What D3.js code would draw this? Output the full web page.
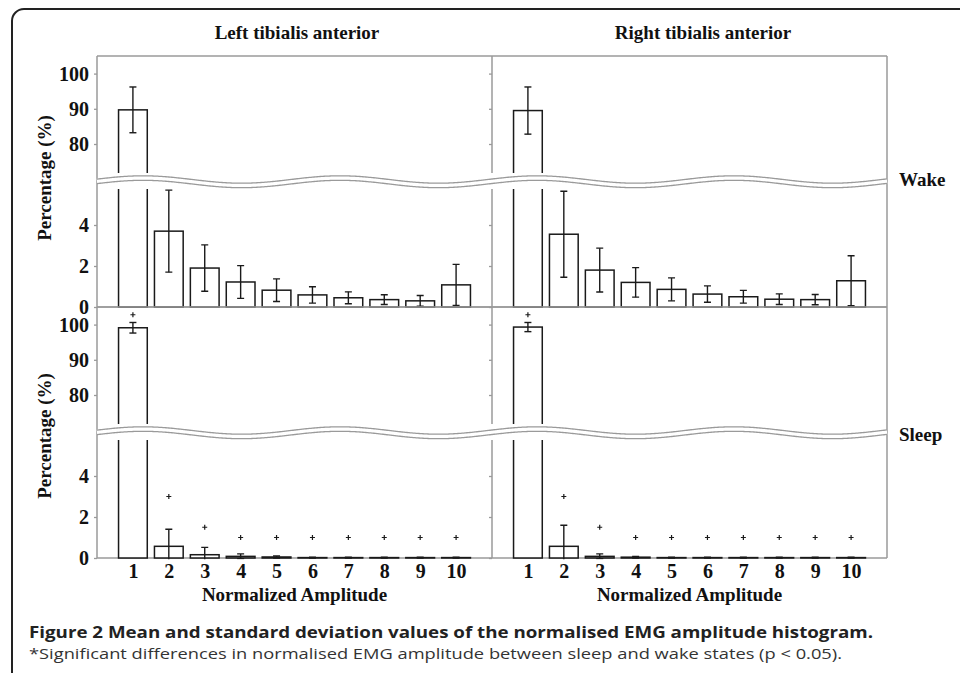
<!DOCTYPE html>
<html>
<head>
<meta charset="utf-8">
<script src="https://cdn.jsdelivr.net/npm/d3@7"></script>
<style>
body { margin: 0; background: #fff; }
svg { display: block; }
.serif { font-family: 'Liberation Serif', 'Times New Roman', serif; font-weight: bold; fill: #111; }
</style>
</head>
<body>
<div class="chart"></div>
<script>
//Values (percentage of samples per normalised amplitude bin)
const bins = [1, 2, 3, 4, 5, 6, 7, 8, 9, 10];
const muscles = ['Left tibialis anterior', 'Right tibialis anterior'];
const states = ['Wake', 'Sleep'];

const wakeLeftMean = [89.7, 3.7, 1.9, 1.22, 0.82, 0.59, 0.45, 0.36, 0.30, 1.08];
const wakeLeftSd = [6.5, 2.0, 1.13, 0.8, 0.55, 0.4, 0.29, 0.24, 0.26, 1.0];
const wakeRightMean = [89.5, 3.55, 1.8, 1.2, 0.86, 0.63, 0.5, 0.38, 0.36, 1.28];
const wakeRightSd = [6.7, 2.1, 1.07, 0.72, 0.56, 0.4, 0.31, 0.26, 0.25, 1.22];

const sleepLeftMean = [99.1, 0.57, 0.16, 0.08, 0.05, 0.02, 0.02, 0.02, 0.02, 0.02];
const sleepLeftSd = [1.5, 0.83, 0.36, 0.12, 0.05, 0.02, 0.02, 0.02, 0.02, 0.02];
const sleepRightMean = [99.3, 0.57, 0.08, 0.04, 0.02, 0.02, 0.02, 0.02, 0.02, 0.02];
const sleepRightSd = [1.3, 1.03, 0.12, 0.04, 0.02, 0.02, 0.02, 0.02, 0.02, 0.02];

//Where the significance "+" sits above each sleep bar
const sleepMarks = [102.8, 3.0, 1.5, 1, 1, 1, 1, 1, 1, 1];

const upperTicks = [80, 90, 100];
const lowerTicks = [0, 2, 4];

const panels = [
    {row: 0, col: 0, mean: wakeLeftMean, sd: wakeLeftSd, marks: []},
    {row: 0, col: 1, mean: wakeRightMean, sd: wakeRightSd, marks: []},
    {row: 1, col: 0, mean: sleepLeftMean, sd: sleepLeftSd, marks: sleepMarks},
    {row: 1, col: 1, mean: sleepRightMean, sd: sleepRightSd, marks: sleepMarks}
];

//Layout
const WIDTH = 960;
const HEIGHT = 673;
const LEFT = 97;
const TOP = 56;
const PANEL_W = 395;
const ROW_H = 251;
const BREAK_TOP = 117;
const BREAK_BOTTOM = 133;
const AXIS_GREY = '#9a9a9a';
const INK = '#1a1a1a';

let svg = d3.select('.chart')
.append('svg')
.attr('width', WIDTH)
.attr('height', HEIGHT);

//Outer rounded border
svg.append('rect')
.attr('x', 12)
.attr('y', 9)
.attr('width', 1000)
.attr('height', 720)
.attr('rx', 12)
.style('fill', 'none')
.style('stroke', '#222')
.style('stroke-width', 2);

//Scales, the y axis is broken in two pieces
const xScale = d3.scaleLinear().domain([0, 11]).range([0, PANEL_W]);
const yUpper = d3.scaleLinear().domain([70, 105]).range([123.2, 0]);
const yLower = d3.scaleLinear().domain([0, 6]).range([251, 128]);
const BAR_W = xScale(0.8) - xScale(0);

let defs = svg.append('defs');
defs.append('clipPath').attr('id', 'clipUpper')
.append('rect')
.attr('x', 0).attr('y', -2)
.attr('width', PANEL_W).attr('height', BREAK_TOP + 2);
defs.append('clipPath').attr('id', 'clipLower')
.append('rect')
.attr('x', 0).attr('y', BREAK_BOTTOM)
.attr('width', PANEL_W).attr('height', yLower(0) - BREAK_BOTTOM + 1.2);

//draw bars, error bars and markers for one piece of the broken axis
function drawPiece(g, p, yScale, clipId, floorVal) {
    let piece = g.append('g').attr('clip-path', `url(#${clipId})`);
    let rows = bins.map((b, i) => ({bin: b, mean: p.mean[i], sd: p.sd[i], mark: p.marks[i]}));

    piece.selectAll()
    .data(rows)
    .enter()
    .append('rect')
    .attr('x', d => xScale(d.bin) - BAR_W / 2)
    .attr('y', d => yScale(Math.min(d.mean, floorVal === 0 ? 8 : 200)))
    .attr('width', BAR_W)
    .attr('height', d => yScale(floorVal) - yScale(Math.min(d.mean, floorVal === 0 ? 8 : 200)))
    .style('fill', '#fff')
    .style('stroke', INK)
    .style('stroke-width', 1.5);

    let err = piece.selectAll()
    .data(rows)
    .enter()
    .append('g')
    .style('stroke', INK)
    .style('stroke-width', 1.4);

    err.append('line')
    .attr('x1', d => xScale(d.bin)).attr('x2', d => xScale(d.bin))
    .attr('y1', d => yScale(d.mean - d.sd)).attr('y2', d => yScale(d.mean + d.sd));
    err.append('line')
    .attr('x1', d => xScale(d.bin) - 3.5).attr('x2', d => xScale(d.bin) + 3.5)
    .attr('y1', d => yScale(d.mean + d.sd)).attr('y2', d => yScale(d.mean + d.sd));
    err.append('line')
    .attr('x1', d => xScale(d.bin) - 3.5).attr('x2', d => xScale(d.bin) + 3.5)
    .attr('y1', d => yScale(d.mean - d.sd)).attr('y2', d => yScale(d.mean - d.sd));

    piece.selectAll()
    .data(rows.filter(d => d.mark !== undefined))
    .enter()
    .append('path')
    .attr('d', d => {
        let cx = xScale(d.bin);
        let cy = yScale(d.mark);
        return `M${cx - 2.5},${cy}h5M${cx},${cy - 2.5}v5`;
    })
    .style('stroke', INK)
    .style('stroke-width', 1.2);
}

//wavy break across a whole row
function wavePath(offset) {
    let pts = d3.range(0, 2 * PANEL_W + 1, 2);
    return d3.line()
    .x(x => x)
    .y(x => 123.5 + offset - 3.7 * Math.cos(2 * Math.PI * (x + LEFT - 143) / 197))
    .curve(d3.curveBasis)(pts);
}

states.forEach((state, r) => {
    let row = svg.append('g')
    .attr('transform', `translate(${LEFT},${TOP + r * ROW_H})`);

    //frame lines
    let frame = row.append('g').style('stroke', AXIS_GREY).style('stroke-width', 1.5);
    frame.append('line').attr('x1', 0).attr('x2', 2 * PANEL_W).attr('y1', 0).attr('y2', 0);
    frame.append('line').attr('x1', 0).attr('x2', 2 * PANEL_W).attr('y1', yLower(0)).attr('y2', yLower(0));
    frame.append('line').attr('x1', 0).attr('x2', 0).attr('y1', 0).attr('y2', yLower(0));
    frame.append('line').attr('x1', 2 * PANEL_W).attr('x2', 2 * PANEL_W).attr('y1', 0).attr('y2', yLower(0));
    frame.append('line').attr('x1', PANEL_W).attr('x2', PANEL_W).attr('y1', 0).attr('y2', BREAK_TOP);
    frame.append('line').attr('x1', PANEL_W).attr('x2', PANEL_W).attr('y1', BREAK_BOTTOM).attr('y2', yLower(0));

    panels.filter(p => p.row === r).forEach(p => {
        let g = row.append('g').attr('transform', `translate(${p.col * PANEL_W},0)`);
        drawPiece(g, p, yUpper, 'clipUpper', 60);
        drawPiece(g, p, yLower, 'clipLower', 0);

        //y axes, labels only on the left panel
        let up = g.append('g')
        .call(d3.axisLeft(yUpper).tickValues(upperTicks).tickSize(3).tickPadding(5)
            .tickFormat(p.col === 0 ? d3.format('d') : ''));
        let low = g.append('g')
        .call(d3.axisLeft(yLower).tickValues(lowerTicks).tickSize(3).tickPadding(5)
            .tickFormat(p.col === 0 ? d3.format('d') : ''));
        [up, low].forEach(a => {
            a.select('.domain').remove();
            a.selectAll('line').style('stroke', AXIS_GREY).style('stroke-width', 1.3);
            a.selectAll('text').attr('class', 'serif').style('font-size', '20px');
        });

        //x axis under the sleep row
        if (r === 1) {
            let xa = g.append('g')
            .attr('transform', `translate(0,${yLower(0)})`)
            .call(d3.axisBottom(xScale).tickValues(bins).tickSize(0).tickPadding(6));
            xa.select('.domain').remove();
            xa.selectAll('text').attr('class', 'serif').style('font-size', '20px');

            g.append('text')
            .attr('class', 'serif')
            .attr('x', PANEL_W / 2)
            .attr('y', yLower(0) + 43)
            .attr('text-anchor', 'middle')
            .style('font-size', '19px')
            .text('Normalized Amplitude');
        }
    });

    //the break: white gap between two grey waves
    row.append('path')
    .attr('d', wavePath(2.2))
    .style('fill', 'none')
    .style('stroke', '#fff')
    .style('stroke-width', 5);
    [0, 4.5].forEach(off => {
        row.append('path')
        .attr('d', wavePath(off))
        .style('fill', 'none')
        .style('stroke', AXIS_GREY)
        .style('stroke-width', 1.3);
    });

    //y label and state label
    row.append('text')
    .attr('class', 'serif')
    .attr('transform', `translate(${45 - LEFT + 6},${[122, 129][r]}) rotate(-90)`)
    .attr('text-anchor', 'middle')
    .style('font-size', '19px')
    .text('Percentage (%)');

    row.append('text')
    .attr('class', 'serif')
    .attr('x', 899 - LEFT)
    .attr('y', [130, 134][r])
    .style('font-size', '19px')
    .text(state);
});

//Panel titles
svg.selectAll()
.data(muscles)
.enter()
.append('text')
.attr('class', 'serif')
.attr('x', (d, i) => [297, 703][i])
.attr('y', 39)
.attr('text-anchor', 'middle')
.style('font-size', '19px')
.text(d => d);

//Caption
svg.append('text')
.attr('x', 29)
.attr('y', 638)
.attr('textLength', 844)
.attr('lengthAdjust', 'spacingAndGlyphs')
.style('font-family', "'Open Sans', sans-serif")
.style('font-weight', 'bold')
.style('font-size', '16px')
.style('fill', '#222')
.text('Figure 2 Mean and standard deviation values of the normalised EMG amplitude histogram.');

svg.append('text')
.attr('x', 29)
.attr('y', 659)
.attr('textLength', 813)
.attr('lengthAdjust', 'spacingAndGlyphs')
.style('font-family', "'Open Sans', sans-serif")
.style('font-size', '14.5px')
.style('fill', '#333')
.text('*Significant differences in normalised EMG amplitude between sleep and wake states (p < 0.05).');
</script>
</body>
</html>
